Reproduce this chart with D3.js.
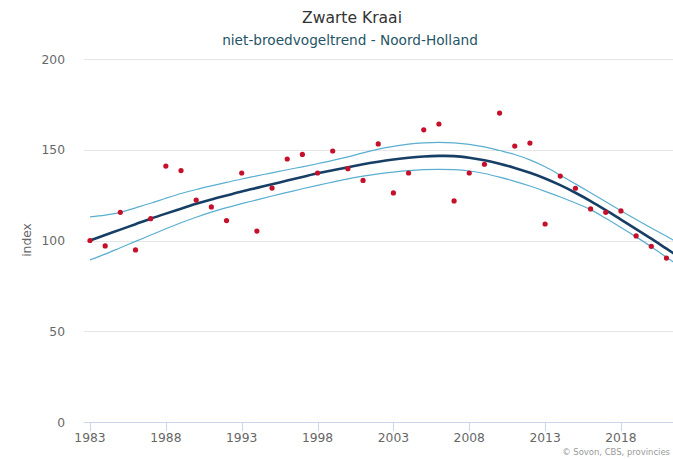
<!DOCTYPE html>
<html><head><meta charset="utf-8">
<script src="https://cdn.jsdelivr.net/npm/d3@7"></script>
<style>body{margin:0;background:#fff}svg{display:block;font-family:"DejaVu Sans",Verdana,sans-serif}</style>
</head><body><svg id="c" width="673" height="459"></svg>
<script>
const years = d3.range(1983, 2023);
const indexValues = [100,97,115.5,94.8,112,141,138.5,122.3,118.5,111,137.2,105.2,128.9,144.9,147.4,137.2,149.3,139.6,133.1,153.2,126.2,137.2,161,164.2,121.8,137.2,142,170.2,152,153.7,109.1,135.5,128.8,117.4,115.5,116.3,102.5,96.8,90.3];
const trend = [100,103,106,109,112,114.8,117.5,120.2,122.6,124.8,127,129,131,133,135,137,138.7,140.3,142,143.4,144.6,145.6,146.3,146.6,146.5,145.6,144.2,142.3,140,137.3,134.2,130.5,126.3,121.7,116.7,111.5,106.3,101,95.5,90];
const upper = [113,114,115.5,118,120.5,123.3,125.9,128.1,130.1,132,133.9,135.6,137.3,139,140.6,142.3,144.1,146.1,148.3,150.3,151.9,153.1,153.8,154.1,153.8,153,151.6,149.6,147.4,144.4,140.6,136,131.2,126.3,121.3,116.4,111.6,106.9,102.3,97.8];
const lower = [89.3,92.5,96,99.5,103,106.5,109.8,112.8,115.6,118.1,120.3,122.4,124.5,126.5,128.5,130.4,132.2,134,135.5,136.7,137.7,138.5,139,139.2,139,138.3,136.9,134.9,132.6,130,127.1,124,120.7,117,112.2,107.2,102,96.6,90.8,85];
const yTicks = [0,50,100,150,200];
const xTicks = [1983,1988,1993,1998,2003,2008,2013,2018];

const svg = d3.select("#c");
const W = 673;
const plotLeft = 84;
const x = d3.scaleLinear().domain([1983, 2022]).range([90, 90 + 39*15.17]);
const y = d3.scaleLinear().domain([0, 200]).range([422, 59]);

function fit(sel, target) {
  const fs = parseFloat(sel.attr("font-size"));
  const w = sel.node().getComputedTextLength();
  if (w > 0) sel.attr("font-size", (fs * target / w).toFixed(2));
}

// gridlines
svg.append("g").selectAll("line").data(yTicks.filter(d=>d>0)).join("line")
  .attr("x1", plotLeft).attr("x2", W).attr("y1", d=>Math.round(y(d))+0.5).attr("y2", d=>Math.round(y(d))+0.5)
  .attr("stroke", "#e6e6e6").attr("stroke-width", 1);

// y labels
svg.append("g").selectAll("text").data(yTicks).join("text")
  .attr("x", 65).attr("y", d=>y(d)+4.5).attr("text-anchor","end")
  .attr("font-size", 12.3).attr("fill", "#666").text(d=>d);

// x axis line
svg.append("line").attr("x1", plotLeft).attr("x2", W).attr("y1", 422.5).attr("y2", 422.5)
  .attr("stroke", "#ccd6eb").attr("stroke-width", 1);
const xa = svg.append("g");
xa.selectAll("line").data(xTicks).join("line")
  .attr("x1", d=>Math.round(x(d))+0.5).attr("x2", d=>Math.round(x(d))+0.5)
  .attr("y1", 422).attr("y2", 431).attr("stroke", "#ccd6eb");
xa.selectAll("text").data(xTicks).join("text")
  .attr("x", d=>x(d)).attr("y", 442).attr("text-anchor","middle")
  .attr("font-size", 12.3).attr("fill", "#666").text(d=>d);

// y axis title
svg.append("text").attr("transform","translate(31,240) rotate(-90)")
  .attr("text-anchor","middle").attr("font-size", 12.3).attr("fill","#666").text("index");

// title / subtitle
const t1 = svg.append("text").attr("x", 352).attr("y", 23).attr("text-anchor","middle")
  .attr("font-size", 15).attr("fill","#333").text("Zwarte Kraai");
fit(t1, 100);
const t2 = svg.append("text").attr("x", 350).attr("y", 45).attr("text-anchor","middle")
  .attr("font-size", 13).attr("fill","#1f5566").text("niet-broedvogeltrend - Noord-Holland");
fit(t2, 256);

// lines
svg.append("defs").append("clipPath").attr("id","pc").append("rect")
  .attr("x", plotLeft).attr("y", 40).attr("width", W-plotLeft).attr("height", 400);
const gl = svg.append("g").attr("clip-path","url(#pc)");
const line = arr => d3.line().x((d,i)=>x(years[i])).y(d=>y(d)).curve(d3.curveCatmullRom.alpha(0.5))(arr);
gl.append("path").attr("d", line(upper)).attr("fill","none").attr("stroke","#5aaed0").attr("stroke-width",1.2);
gl.append("path").attr("d", line(lower)).attr("fill","none").attr("stroke","#5aaed0").attr("stroke-width",1.2);
gl.append("path").attr("d", line(trend)).attr("fill","none").attr("stroke","#173f66").attr("stroke-width",2.6);

// points
gl.append("g").selectAll("circle").data(indexValues).join("circle")
  .attr("cx", (d,i)=>x(years[i])).attr("cy", d=>y(d)).attr("r", 2.6).attr("fill", "#c5102b");

// credits
const cr = svg.append("text").attr("x", 670).attr("y", 455).attr("text-anchor","end")
  .attr("font-size", 9.8).attr("fill","#999").text("© Sovon, CBS, provincies");
fit(cr, 108);
</script></body></html>
